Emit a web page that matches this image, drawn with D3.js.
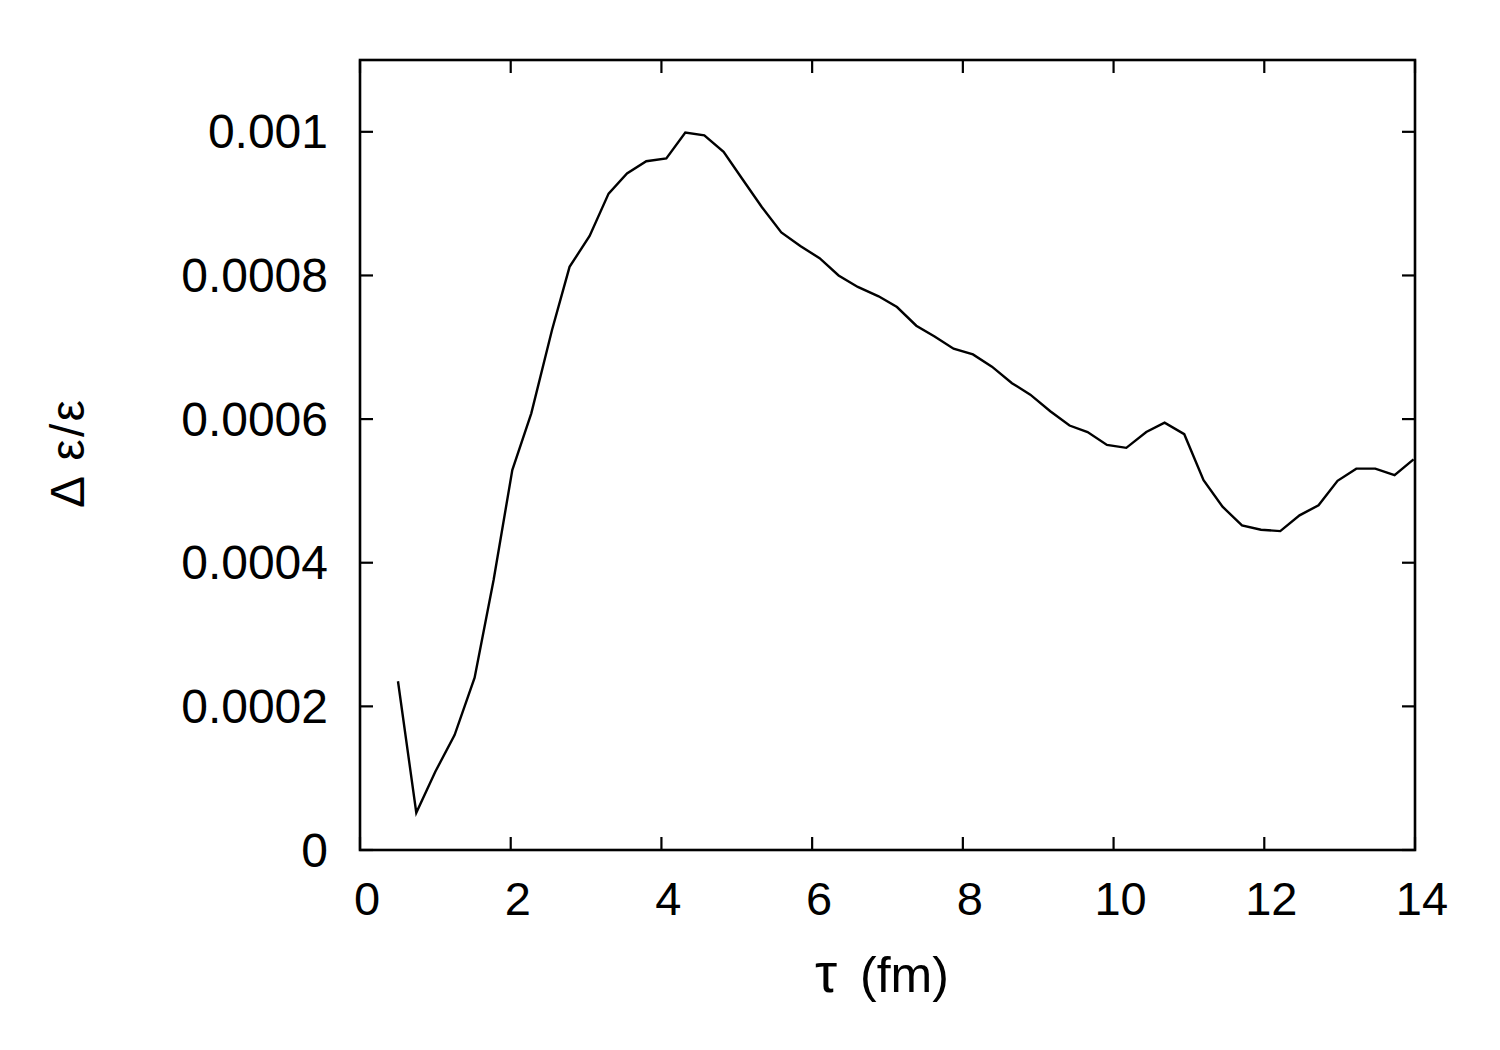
<!DOCTYPE html>
<html>
<head>
<meta charset="utf-8">
<script src="https://cdn.jsdelivr.net/npm/d3@7"></script>
<style>
    body { margin: 0; background: #fff; }
    svg text { font-family: "Liberation Sans", Arial, Helvetica, sans-serif; fill: #000; }
</style>
</head>
<body>
<svg width="1500" height="1050"></svg>
<script>
// DATA
var tau = [0.504, 0.747, 0.999, 1.255, 1.521, 1.773, 2.021, 2.273, 2.548, 2.781,
    3.047, 3.299, 3.543, 3.799, 4.065, 4.317, 4.569, 4.825, 5.069, 5.334,
    5.591, 5.843, 6.099, 6.351, 6.606, 6.882, 7.126, 7.382, 7.625, 7.877,
    8.134, 8.386, 8.652, 8.895, 9.160, 9.416, 9.655, 9.912, 10.169, 10.434,
    10.677, 10.938, 11.194, 11.446, 11.704, 11.956, 12.212, 12.468, 12.720, 12.972,
    13.221, 13.473, 13.729, 13.981];
var deltaEps = [0.000235, 0.0000519, 0.000109, 0.000160, 0.000240, 0.000376, 0.000529, 0.000608, 0.000724, 0.000812,
    0.000855, 0.000914, 0.000942, 0.000959, 0.000963, 0.000999, 0.000995, 0.000972, 0.000935, 0.000895,
    0.000860, 0.000841, 0.000824, 0.000800, 0.000784, 0.000771, 0.000756, 0.000730, 0.000715, 0.000698,
    0.000690, 0.000673, 0.000650, 0.000634, 0.000611, 0.000591, 0.000582, 0.000564, 0.000560, 0.000582,
    0.000595, 0.000579, 0.000515, 0.000478, 0.000452, 0.000446, 0.000444, 0.000466, 0.000480, 0.000514,
    0.000531, 0.000531, 0.000522, 0.000544];
var xTicks = [0, 2, 4, 6, 8, 10, 12, 14];
var yTicks = [0, 0.0002, 0.0004, 0.0006, 0.0008, 0.001];
var yTickLabels = ["0", "0.0002", "0.0004", "0.0006", "0.0008", "0.001"];

var svg = d3.select("svg"),
    plotLeft = 360, plotRight = 1415, plotTop = 60, plotBottom = 850,
    tickLen = 13;

var xScale = d3.scaleLinear().domain([0, 14]).range([plotLeft, plotRight]),
    yScale = d3.scaleLinear().domain([0, 0.0011]).range([plotBottom, plotTop]);

var data = tau.map(function (t, i) {
    return { t: t, v: deltaEps[i] };
});

// ticks on all four sides, pointing inward
var ax = svg.append("g").attr("stroke", "#000").attr("stroke-width", 2.2);
xTicks.forEach(function (d) {
    var x = xScale(d);
    ax.append("line").attr("x1", x).attr("x2", x).attr("y1", plotBottom).attr("y2", plotBottom - tickLen);
    ax.append("line").attr("x1", x).attr("x2", x).attr("y1", plotTop).attr("y2", plotTop + tickLen);
});
yTicks.forEach(function (d) {
    var y = yScale(d);
    ax.append("line").attr("x1", plotLeft).attr("x2", plotLeft + tickLen).attr("y1", y).attr("y2", y);
    ax.append("line").attr("x1", plotRight).attr("x2", plotRight - tickLen).attr("y1", y).attr("y2", y);
});

// tick labels
svg.append("g").selectAll("text")
    .data(xTicks)
    .enter().append("text")
    .attr("x", function (d) { return xScale(d) + 7; })
    .attr("y", 915)
    .attr("text-anchor", "middle")
    .attr("font-size", "47px")
    .text(function (d) { return d; });

svg.append("g").selectAll("text")
    .data(yTicks)
    .enter().append("text")
    .attr("x", 328)
    .attr("y", function (d) { return yScale(d) + 16.5; })
    .attr("text-anchor", "end")
    .attr("font-size", "48px")
    .text(function (d, i) { return yTickLabels[i]; });

// axis titles
var xTitle = svg.append("text")
    .attr("y", 992)
    .attr("font-size", "50px");
xTitle.append("tspan").attr("x", 815).attr("font-size", "56px").text("\u03c4");
xTitle.append("tspan").attr("x", 860).text("(fm)");

svg.append("text")
    .attr("transform", "translate(84,454) rotate(-90)")
    .attr("text-anchor", "middle")
    .attr("font-size", "48px")
    .attr("textLength", 108)
    .attr("lengthAdjust", "spacing")
    .text("\u0394 \u03b5/\u03b5");

// curve
svg.append("clipPath").attr("id", "clip")
    .append("rect").attr("x", plotLeft).attr("y", plotTop)
    .attr("width", plotRight - plotLeft).attr("height", plotBottom - plotTop);

var line = d3.line()
    .x(function (d) { return xScale(d.t); })
    .y(function (d) { return yScale(d.v); });

svg.append("path")
    .datum(data)
    .attr("clip-path", "url(#clip)")
    .attr("fill", "none")
    .attr("stroke", "#000")
    .attr("stroke-width", 2.4)
    .attr("d", line);

// frame
svg.append("rect")
    .attr("x", plotLeft).attr("y", plotTop)
    .attr("width", plotRight - plotLeft).attr("height", plotBottom - plotTop)
    .attr("fill", "none")
    .attr("stroke", "#000")
    .attr("stroke-width", 2.6);
</script>
</body>
</html>
